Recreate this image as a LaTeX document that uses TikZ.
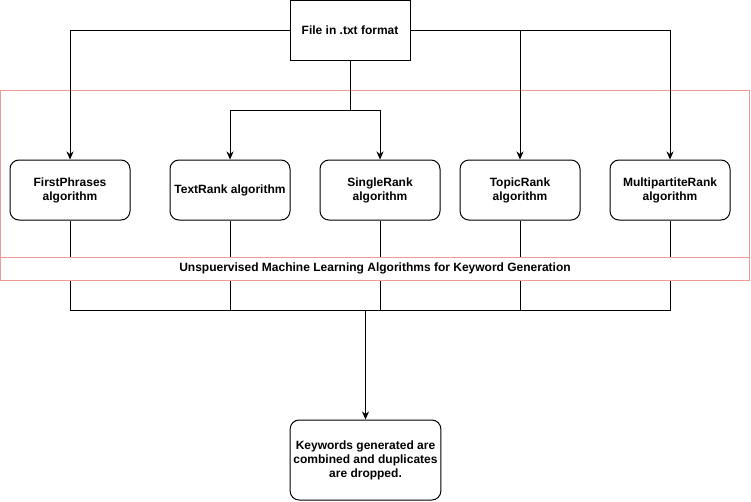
\documentclass[tikz,border=0pt]{standalone}
\usepackage{fontspec}
\setmainfont{Liberation Sans}
\usetikzlibrary{arrows.meta}
\definecolor{pinkline}{HTML}{F09A98}
\begin{document}
\begin{tikzpicture}[x=1pt,y=-1pt,
  box/.style={draw,line width=1pt,rounded corners=9pt,minimum width=120pt,minimum height=60pt,align=center,font=\bfseries\fontsize{12}{14}\selectfont,fill=white},
  topbox/.style={draw,line width=1pt,minimum width=120pt,minimum height=60pt,align=center,font=\bfseries\fontsize{12}{14}\selectfont,fill=white},
  conn/.style={line width=1pt},
  arr/.style={line width=1pt,-{Stealth[length=8pt,width=7pt,inset=2.5pt]}}]
\useasboundingbox (0,0) rectangle (751,501);
% group frame
\draw[pinkline,line width=1pt] (0.5,90) rectangle (749.5,280);
% nodes
\node[topbox] (file) at (350,30) {File in .txt format};
\node[box] (fp) at (70,190) {FirstPhrases\\algorithm};
\node[box] (tr) at (230,190) {TextRank algorithm};
\node[box] (sr) at (380,190) {SingleRank\\algorithm};
\node[box] (tp) at (520,190) {TopicRank\\algorithm};
\node[box] (mp) at (670,190) {MultipartiteRank\\algorithm};
\node[box,minimum width=150pt,minimum height=80pt] (kw) at (365.5,460) {Keywords generated are\\combined and duplicates\\are dropped.};
\coordinate (split) at (350,110);
\coordinate (join) at (365.5,310);
% top connectors
\draw[arr] (file.west) -| (fp.north);
\draw[arr] (file.east) -| (tp.north);
\draw[arr] (file.east) -| (mp.north);
\draw[conn] (file.south) -- (split);
\draw[arr] (split) -| (tr.north);
\draw[arr] (split) -| (sr.north);
% bottom connectors
\draw[conn] (fp.south) |- (join);
\draw[conn] (tr.south) |- (join);
\draw[conn] (sr.south) |- (join);
\draw[conn] (tp.south) |- (join);
\draw[conn] (mp.south) |- (join);
\draw[arr] (join) -- (kw.north);
% band
\node[draw=pinkline,line width=1pt,fill=white,minimum width=749pt,minimum height=23pt,inner sep=0pt,font=\bfseries\fontsize{12}{14}\selectfont] (band) at (375,268.5) {Unspuervised Machine Learning Algorithms for Keyword Generation};
\end{tikzpicture}
\end{document}
